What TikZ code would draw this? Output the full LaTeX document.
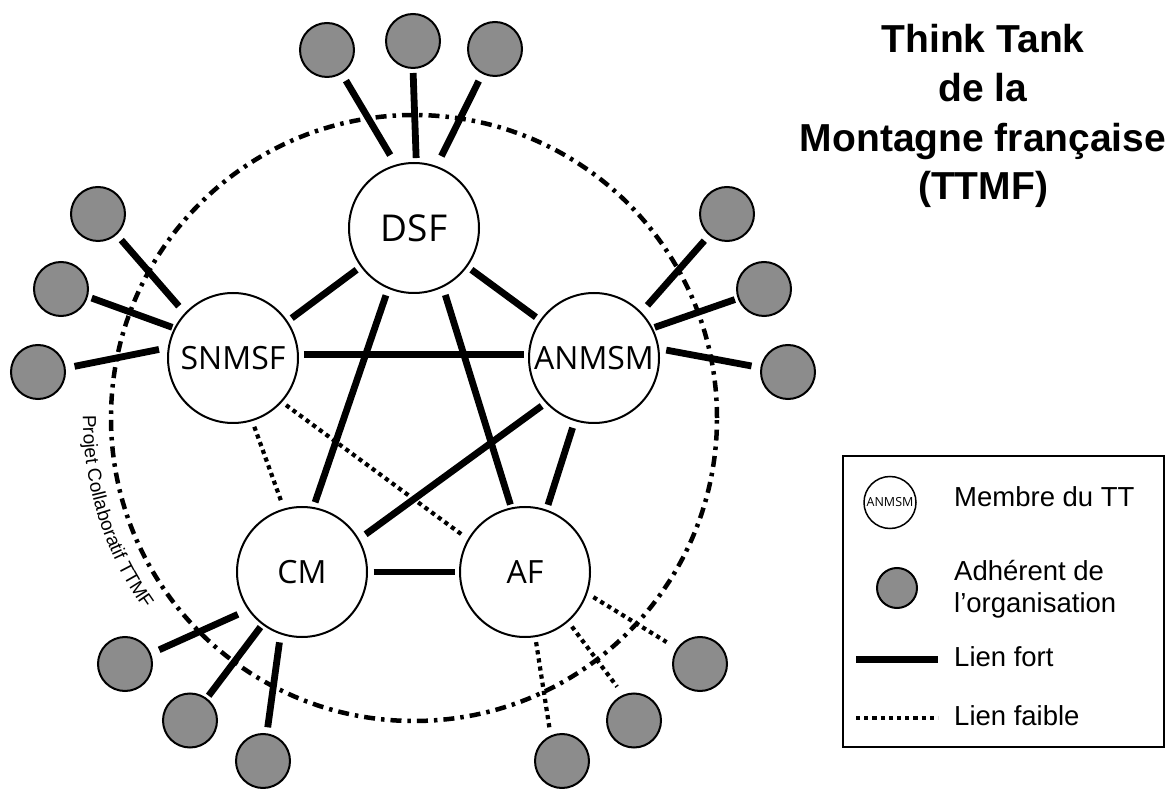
\documentclass[tikz,border=0pt]{standalone}
\usepackage{fontspec}
\setmainfont{Liberation Sans}
\newfontfamily\osans{Open Sans}
\usetikzlibrary{decorations.text}
\definecolor{adhgray}{RGB}{140,140,140}
\tikzset{
  member/.style={circle, draw=black, line width=2pt, fill=white, minimum size=130pt, inner sep=0pt, font=\osans\fontsize{32}{36}\selectfont},
  adh/.style={circle, draw=black, line width=2pt, fill=adhgray, minimum size=54pt, inner sep=0pt},
  strong/.style={line width=6.8pt},
  weak/.style={line width=4.2pt, dash pattern=on 4.2pt off 4pt},
  projetline/.style={line width=4.5pt, dash pattern=on 11pt off 6pt on 3.5pt off 6pt},
  titletext/.style={font=\bfseries\fontsize{39}{39}\selectfont, anchor=base, inner sep=0pt},
  legtext/.style={font=\fontsize{27.5}{27.5}\selectfont, anchor=base west, inner sep=0pt},
  sh/.style 2 args={shorten <=#1pt, shorten >=#2pt}
}
\begin{document}
\begin{tikzpicture}[x=1pt,y=1pt]
\useasboundingbox (0,0) rectangle (1170,788);

% collaborative project circle
\coordinate (ctr) at (414,370);
\draw[projetline] (ctr) circle[radius=303];
\path[decorate, decoration={text along path, text={|\fontsize{19}{19}\selectfont|Projet Collaboratif TTMF}}]
  (ctr) ++(179.5:331) arc[start angle=179.5, end angle=225, radius=331];

% members
\node[member, font=\osans\fontsize{37}{40}\selectfont] (DSF) at (414,560) {DSF};
\node[member] (SNMSF) at (233,430) {SNMSF};
\node[member] (ANMSM) at (594,430) {ANMSM};
\node[member] (CM) at (302,216) {CM};
\node[member] (AF) at (525,216) {AF};

% adherents
\node[adh] (a1) at (327,738) {};
\node[adh] (a2) at (413,747) {};
\node[adh] (a3) at (495,739) {};
\node[adh] (s1) at (98,574) {};
\node[adh] (s2) at (61,499) {};
\node[adh] (s3) at (38,416) {};
\node[adh] (n1) at (727,574) {};
\node[adh] (n2) at (764,499) {};
\node[adh] (n3) at (788,416) {};
\node[adh] (c1) at (125,124) {};
\node[adh] (c2) at (190,67.5) {};
\node[adh] (c3) at (263,27) {};
\node[adh] (f1) at (562,27) {};
\node[adh] (f2) at (634,67.5) {};
\node[adh] (f3) at (700,124) {};

% member - adherent links
\draw[strong, sh={11}{8}] (DSF.106) -- (a1.302);
\draw[strong, sh={4}{4}] (DSF.88) -- (a2.270);
\draw[strong, sh={11}{8}] (DSF.70) -- (a3.243);
\draw[strong, sh={9}{7}] (SNMSF.137) -- (s1.312);
\draw[strong, sh={2}{4}] (SNMSF.153) -- (s2.344);
\draw[strong, sh={9}{9}] (SNMSF.171) -- (s3.8);
\draw[strong, sh={9}{7}] (ANMSM.44) -- (n1.230);
\draw[strong, sh={2}{3}] (ANMSM.27) -- (n2.200);
\draw[strong, sh={7}{9}] (ANMSM.8) -- (n3.171);
\draw[strong, sh={11}{9}] (CM.215) -- (c1.22);
\draw[strong, sh={3}{3}] (CM.233) -- (c2.53);
\draw[strong, sh={8}{6}] (CM.251) -- (c3.82);
\draw[weak, sh={5}{6}] (AF.279) -- (f1.114);
\draw[weak, sh={6}{10}] (AF.311) -- (f2.113);
\draw[weak, sh={7}{12}] (AF.341) -- (f3.146);

% member - member links
\draw[strong, sh={5}{5}] (DSF.216) -- (SNMSF.34);
\draw[strong, sh={5}{5}] (DSF.324) -- (ANMSM.145);
\draw[strong, sh={5}{4}] (SNMSF.3) -- (ANMSM.177);
\draw[strong, sh={7}{5}] (DSF.247) -- (CM.80);
\draw[strong, sh={8}{3}] (DSF.296) -- (AF.102);
\draw[strong, sh={5}{8}] (ANMSM.223) -- (CM.30);
\draw[strong, sh={7}{5}] (ANMSM.253) -- (AF.71);
\draw[strong, sh={5.5}{4}] (CM.0) -- (AF.180);
\draw[weak, sh={6}{6}] (SNMSF.287) -- (CM.106);
\draw[weak, sh={5}{7.5}] (SNMSF.318) -- (AF.150);

% title
\node[titletext] (t1) at (983,735) {Think Tank};
\node[titletext] (t2) at (983,686) {de la};
\node[titletext] (t3) at (983,636) {Montagne française};
\node[titletext] (t4) at (983,588) {(TTMF)};

% legend
\node[draw=black, line width=2pt, minimum width=321pt, minimum height=291pt, inner sep=0pt] (legbox) at (1003.5,186.5) {};
\node[circle, draw=black, line width=1.5pt, fill=white, minimum size=52pt, inner sep=0pt, font=\osans\fontsize{12.5}{14}\selectfont] (legmem) at (890,285.5) {ANMSM};
\node[legtext] (lt1) at (954,281.3) {Membre du TT};
\node[circle, draw=black, line width=2pt, fill=adhgray, minimum size=40pt, inner sep=0pt] (legadh) at (897,200) {};
\node[legtext] (lt2) at (954,208) {Adhérent de};
\node[legtext] (lt3) at (954,176) {l’organisation};
\coordinate (ls1) at (856,128.7);
\coordinate (ls2) at (938,128.7);
\draw[strong] (ls1) -- (ls2);
\node[legtext] (lt4) at (954,121.3) {Lien fort};
\coordinate (lw1) at (856,70);
\coordinate (lw2) at (938,70);
\draw[weak] (lw1) -- (lw2);
\node[legtext] (lt5) at (954,63) {Lien faible};
\end{tikzpicture}
\end{document}
